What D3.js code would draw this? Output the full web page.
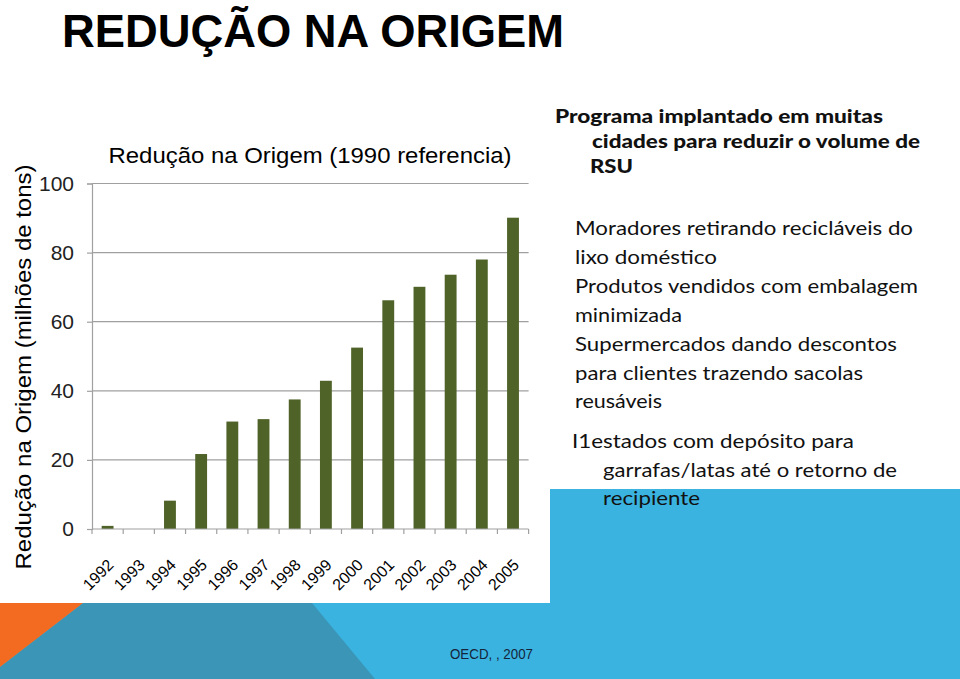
<!DOCTYPE html>
<html><head><meta charset="utf-8">
<script src="https://cdn.jsdelivr.net/npm/d3@7"></script>
<style>html,body{margin:0;padding:0;background:#fff;overflow:hidden}</style>
</head><body>
<svg id="c" width="960" height="679"></svg>
<script>
const years = ["1992","1993","1994","1995","1996","1997","1998","1999","2000","2001","2002","2003","2004","2005"];
const values = [0.9,0,8.2,21.7,31.1,31.8,37.5,42.9,52.5,66.2,70.1,73.6,78.0,90.1];
const yTicks = [0,20,40,60,80,100];
const slideTitle = "REDUÇÃO NA ORIGEM";
const chartTitle = "Redução na Origem (1990 referencia)";
const yTitle = "Redução na Origem (milhões de tons)";
const source = "OECD, , 2007";

const svg = d3.select("#c");
const W = 960, H = 679;

// background shapes
svg.append("rect").attr("x",0).attr("y",0).attr("width",W).attr("height",H).attr("fill","#fff");
svg.append("rect").attr("x",550).attr("y",489).attr("width",410).attr("height",190).attr("fill","#3bb3e0");
svg.append("rect").attr("x",0).attr("y",603).attr("width",W).attr("height",76).attr("fill","#3bb3e0");
svg.append("path").attr("d","M83,603 L312,603 L375,679 L0,679 L0,667 Z").attr("fill","#3a95b6");
svg.append("path").attr("d","M0,603 L83,603 L0,667 Z").attr("fill","#f26b21");

// slide title
svg.append("text").attr("x",62).attr("y",47)
  .attr("font-family","'Liberation Sans Narrow','Liberation Sans',Arial,sans-serif")
  .attr("font-weight","bold")
  .attr("font-size",47).attr("fill","#000")
  .attr("textLength",502).attr("lengthAdjust","spacingAndGlyphs").text(slideTitle);

// chart
const x0 = 92, x1 = 528.6, yb = 529, yt = 183.5;
const x = d3.scaleBand().domain(years).range([x0,x1]).padding(0);
const y = d3.scaleLinear().domain([0,100]).range([yb,yt]);
const g = svg.append("g");
const grid = "#a0a0a0";

// y axis + gridlines
const yAxis = d3.axisLeft(y).tickValues(yTicks).tickSize(5).tickPadding(13).tickFormat(d3.format("d"));
const ya = g.append("g").attr("transform",`translate(${x0},0)`).call(yAxis);
ya.select(".domain").attr("stroke",grid).attr("stroke-width",1.2);
ya.selectAll(".tick line").attr("stroke",grid).attr("stroke-width",1.2);
ya.selectAll(".tick text").attr("font-family","'Liberation Sans',Arial,sans-serif").attr("font-size",21).attr("fill","#222");
g.append("g").selectAll("line").data(yTicks.filter(d=>d>0)).join("line")
  .attr("x1",x0).attr("x2",x1).attr("y1",d=>y(d)).attr("y2",d=>y(d))
  .attr("stroke",grid).attr("stroke-width",1.2);

// bars
const bw = x.bandwidth()*0.38;
g.append("g").selectAll("rect").data(years).join("rect")
  .attr("x",(d)=>x(d)+x.bandwidth()/2-bw/2)
  .attr("y",(d,i)=>y(values[i]))
  .attr("width",bw)
  .attr("height",(d,i)=>yb-y(values[i]))
  .attr("fill","#4f6228");

// x axis
g.append("line").attr("x1",x0).attr("x2",x1).attr("y1",yb).attr("y2",yb).attr("stroke",grid).attr("stroke-width",1.2);
const bounds = years.map(d=>x(d)).concat([x1]);
g.append("g").selectAll("line").data(bounds).join("line")
  .attr("x1",d=>d).attr("x2",d=>d).attr("y1",yb).attr("y2",yb+5).attr("stroke",grid).attr("stroke-width",1.2);
g.append("g").selectAll("text").data(years).join("text")
  .attr("transform",d=>`translate(${x(d)+x.bandwidth()/2+7},${yb+37}) rotate(-45)`)
  .attr("text-anchor","end")
  .attr("font-family","'Liberation Sans',Arial,sans-serif").attr("font-size",16).attr("fill","#000")
  .text(d=>d);

// chart title
svg.append("text").attr("x",310).attr("y",163).attr("text-anchor","middle")
  .attr("font-family","'Liberation Sans',Arial,sans-serif").attr("font-size",22).attr("fill","#000")
  .attr("textLength",403).attr("lengthAdjust","spacingAndGlyphs").text(chartTitle);

// y title
svg.append("text").attr("transform","translate(31,367) rotate(-90)").attr("text-anchor","middle")
  .attr("font-family","'Liberation Sans',Arial,sans-serif").attr("font-size",22).attr("fill","#000")
  .attr("textLength",405).attr("lengthAdjust","spacingAndGlyphs").text(yTitle);

// right text
const rf = "Lato,'Open Sans',sans-serif";
const boldLines = [
  {t:"Programa implantado em muitas", x:555, y:123, w:328},
  {t:"cidades para reduzir o volume de", x:592, y:148, w:328},
  {t:"RSU", x:590, y:173, w:43}
];
svg.append("g").selectAll("text").data(boldLines).join("text")
  .attr("x",d=>d.x).attr("y",d=>d.y).attr("font-family",rf).attr("font-weight","900")
  .attr("font-size",18.5).attr("fill","#111")
  .attr("textLength",d=>d.w).attr("lengthAdjust","spacingAndGlyphs").text(d=>d.t);
const normLines = [
  {t:"Moradores retirando recicláveis do", x:575, y:235, w:338},
  {t:"lixo doméstico", x:575, y:264, w:142},
  {t:"Produtos vendidos com embalagem", x:575, y:293, w:343},
  {t:"minimizada", x:575, y:322, w:107},
  {t:"Supermercados dando descontos", x:575, y:351, w:322},
  {t:"para clientes trazendo sacolas", x:575, y:380, w:288},
  {t:"reusáveis", x:575, y:408, w:87},
  {t:"I1estados com depósito para", x:572, y:448, w:282},
  {t:"garrafas/latas até o retorno de", x:603, y:477, w:294},
  {t:"recipiente", x:603, y:505, w:97}
];
svg.append("g").selectAll("text").data(normLines).join("text")
  .attr("x",d=>d.x).attr("y",d=>d.y).attr("font-family",rf)
  .attr("font-size",20).attr("fill","#111")
  .attr("textLength",d=>d.w).attr("lengthAdjust","spacingAndGlyphs").text(d=>d.t);

// source
svg.append("text").attr("x",450).attr("y",659)
  .attr("font-family","'Liberation Sans Narrow','Liberation Sans',Arial,sans-serif")
  .attr("font-size",14).attr("fill","#14243a").attr("textLength",83).attr("lengthAdjust","spacingAndGlyphs").text(source);
</script>
</body></html>
